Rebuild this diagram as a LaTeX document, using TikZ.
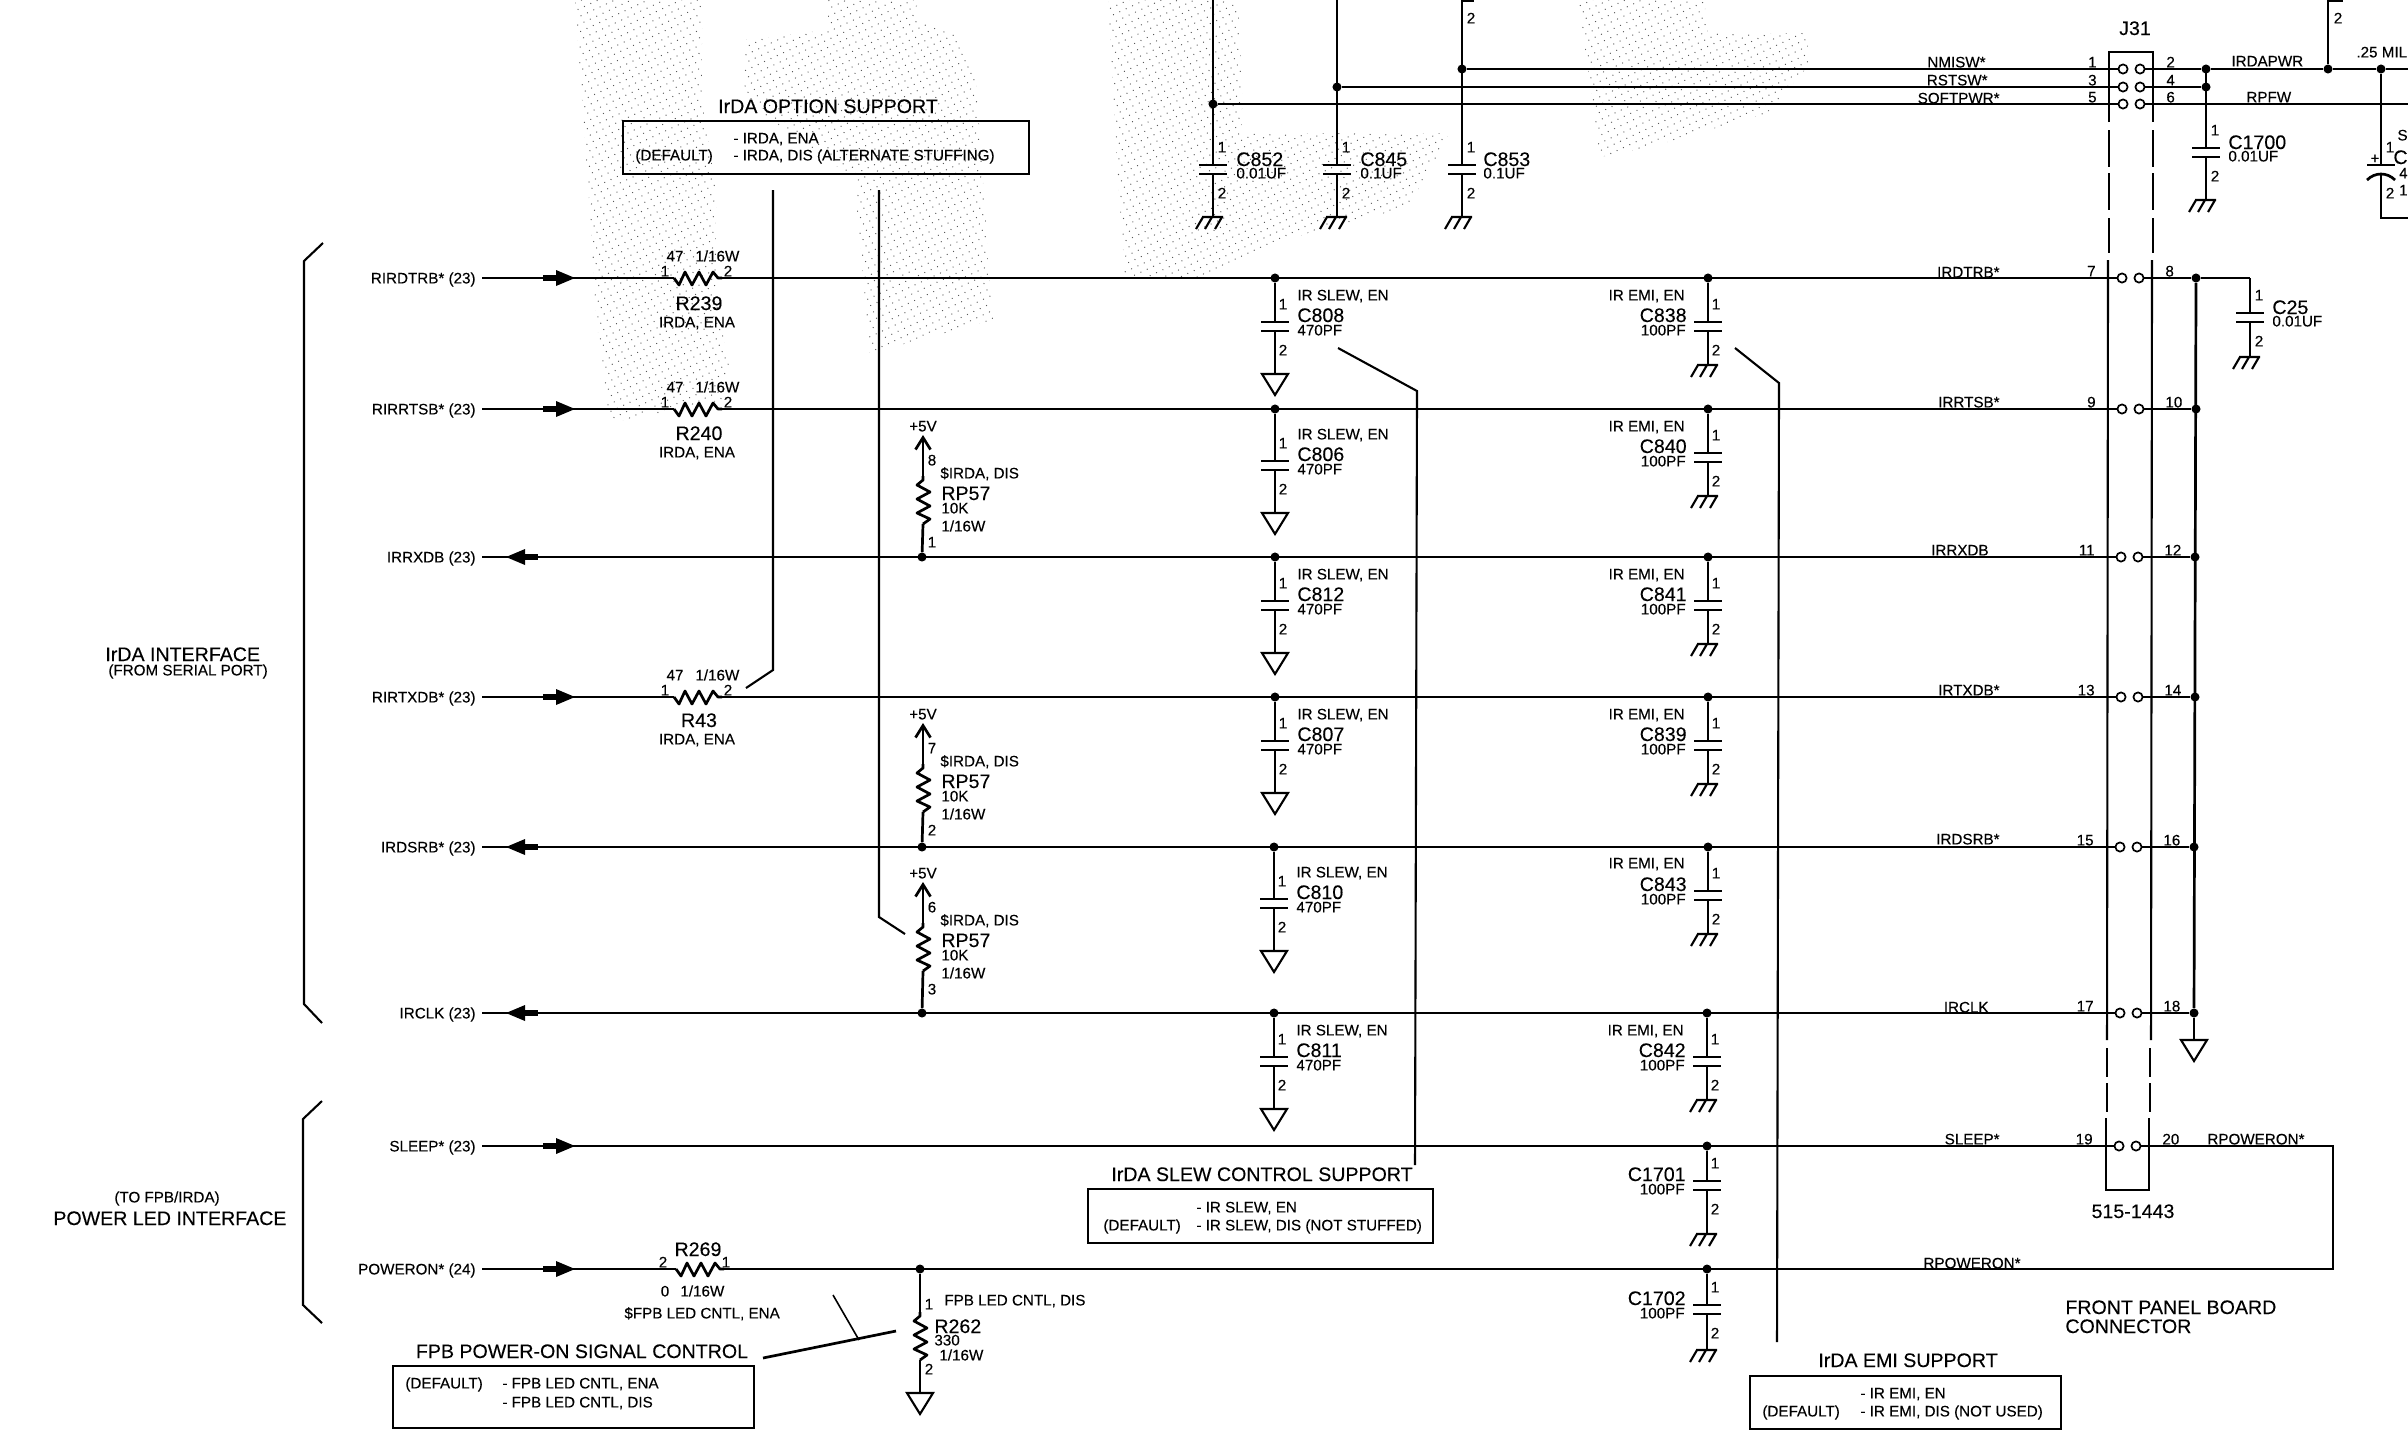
\documentclass[tikz,border=0pt]{standalone}
\usepackage{fontspec}
\setmainfont{Liberation Sans}[FakeBold=0.2]
\usetikzlibrary{arrows.meta,patterns.meta}
\tikzset{wire/.style={line width=1.35pt}}
\tikzset{thinwire/.style={line width=1.05pt}}
\tikzset{point/.style={fill,circle,inner sep=1.6pt}}
\tikzset{pinhole/.style={draw,circle,line width=.85pt,minimum size=4.6pt,inner sep=0pt,fill=white}}
\tikzset{lbl/.style={font=\fontsize{7.6}{8}\selectfont,inner sep=0pt,text height=5.4pt,text depth=0pt}}
\tikzset{lblbig/.style={font=\fontsize{9.8}{10}\selectfont,inner sep=0pt,text height=7pt,text depth=0pt}}
\tikzset{optbox/.style={draw,line width=1.35pt,inner sep=0pt}}
\tikzset{stipple/.style={pattern={Dots[distance=3.5pt,radius=.34pt,angle=25]},pattern color=black!65}}
\tikzset{
    hzig/.pic={\draw[wire,line join=round] (-24,0) -- (-19,7) -- (-13,-6) -- (-6,7) -- (1,-6) -- (8,7) -- (15,-6) -- (20,0) -- (24,0);},
    capplates/.pic={\draw[wire] (-14,0) -- (14,0) (-14,9) -- (14,9);},
    chassis/.pic={\draw[thinwire] (-11,0) -- (10,0) (-10,0) -- (-17,12) (-1,0) -- (-8,12) (9,0) -- (2,12);},
    sigtri/.pic={\draw[thinwire] (-13,0) -- (13,0) -- (0,21) -- cycle;},
    flow/.pic={\fill (0,-8) -- (19,0) -- (0,8) -- cycle; \fill (-13,-3) rectangle (0,3);}
}

\begin{document}
\begin{tikzpicture}[x=.5pt,y=-.5pt]
    \useasboundingbox (0,0) rectangle (2408,1453);
    \clip (0,0) rectangle (2408,1453);

    \fill [stipple] (575,0) -- (702,0) -- (702,100) -- (716,187) -- (716,300) -- (730,367) -- (722,400) -- (610,423) -- (596,317) -- (589,200) -- (582,100) -- cycle;
    \fill [stipple] (828,0) -- (919,0) -- (912,20) -- (954,33) -- (975,67) -- (982,167) -- (993,320) -- (919,340) -- (870,353) -- (856,200) -- (856,180) -- (744,100) -- (744,40) -- (828,30) -- cycle;
    \fill [stipple] (1108,0) -- (1238,0) -- (1242,83) -- (1242,133) -- (1450,133) -- (1408,207) -- (1308,233) -- (1242,257) -- (1208,277) -- (1125,277) -- (1117,167) -- cycle;
    \fill [stipple] (1579,0) -- (1704,0) -- (1708,33) -- (1808,33) -- (1808,67) -- (1767,113) -- (1650,147) -- (1600,157) -- (1592,100) -- (1583,33) -- cycle;

    \node [lblbig,anchor=west] (ifacetitle) at (105,654) {IrDA INTERFACE};
    \node [lbl,anchor=west] (ifacenote) at (108,670) {(FROM SERIAL PORT)};
    \node [lbl,anchor=west] (lednote) at (114,1197) {(TO FPB/IRDA)};
    \node [lblbig,anchor=west] (ledtitle) at (53,1218) {POWER LED INTERFACE};
    \draw [thinwire] (323,243) -- (304,261) -- (304,1004) -- (322,1023);
    \draw [thinwire] (322,1101) -- (303,1119) -- (303,1305) -- (322,1323);

    \foreach \pl/\pr/\yy/\dx in {1/2/69/0,3/4/87/0,5/6/104/0,7/8/278/-1,9/10/409/-1,11/12/557/-2,13/14/697/-2,15/16/847/-3,17/18/1013/-3,19/20/1146/-4} {
        \node [pinhole] (p\pl) at (2123+\dx,\yy) {};
        \node [pinhole] (p\pr) at (2140+\dx,\yy) {};
        \node [lbl,anchor=east] (n\pl) at (2097+\dx,\yy-7) {\pl};
        \node [lbl,anchor=west] (n\pr) at (2166+\dx,\yy-7) {\pr};
    }
    \foreach \net/\x/\yy in {NMISW*/1986/62,RSTSW*/1988/80,SOFTPWR*/2000/98,IRDTRB*/2000/272,IRRTSB*/2000/402,IRRXDB/1989/550,IRTXDB*/2000/690,IRDSRB*/2000/839,IRCLK/1989/1007,SLEEP*/2000/1139,RPOWERON*/2021/1263} {
        \node [lbl,anchor=east] (net\net) at (\x,\yy) {\net};
    }

    \foreach \src/\page/\yy in {RIRDTRB*/23/278,RIRRTSB*/23/409,RIRTXDB*/23/697,SLEEP*/23/1146,POWERON*/24/1269} {
        \node [lbl,anchor=east] (\src) at (476,\yy) {\src{} (\page)};
        \path (556,\yy) pic {flow};
    }
    \foreach \src/\page/\yy in {IRRXDB/23/557,IRDSRB*/23/847,IRCLK/23/1013} {
        \node [lbl,anchor=east] (\src) at (476,\yy) {\src{} (\page)};
        \path (525,\yy) pic [xscale=-1] {flow};
    }

    \foreach \rr/\yy/\ny/\ty in {R239/278/303/322,R240/409/433/452,R43/697/720/739} {
        \coordinate (\rr a) at (674,\yy);
        \coordinate (\rr b) at (722,\yy);
        \path (698,\yy) pic {hzig};
        \node [lbl] (\rr v) at (675,\yy-22) {47};
        \node [lbl,anchor=west] (\rr w) at (695,\yy-22) {1/16W};
        \node [lbl] (\rr p) at (665,\yy-7) {1};
        \node [lbl] (\rr q) at (728,\yy-7) {2};
        \node [lblbig] (\rr) at (699,\ny) {\rr};
        \node [lbl] (\rr t) at (697,\ty) {IRDA, ENA};
    }
    \coordinate (R269a) at (676,1269);
    \coordinate (R269b) at (724,1269);
    \path (700,1269) pic {hzig};
    \node [lbl] (R269p) at (663,1262) {2};
    \node [lbl] (R269q) at (726,1262) {1};
    \node [lblbig] (R269) at (698,1249) {R269};
    \node [lbl] (R269v) at (665,1291) {0};
    \node [lbl,anchor=west] (R269w) at (680,1291) {1/16W};
    \node [lbl,anchor=west] (R269t) at (624,1313) {\$FPB LED CNTL, ENA};

    \coordinate (rpoweron) at (2333,1269);
    \draw [wire,shorten <=3pt] (RIRDTRB*.east) -- (R239a);
    \draw [wire] (R239b) -- (p7);
    \draw [wire,shorten <=3pt] (RIRRTSB*.east) -- (R240a);
    \draw [wire] (R240b) -- (p9);
    \draw [wire,shorten <=3pt] (IRRXDB.east) -- (p11);
    \draw [wire,shorten <=3pt] (RIRTXDB*.east) -- (R43a);
    \draw [wire] (R43b) -- (p13);
    \draw [wire,shorten <=3pt] (IRDSRB*.east) -- (p15);
    \draw [wire,shorten <=3pt] (IRCLK.east) -- (p17);
    \draw [wire,shorten <=3pt] (SLEEP*.east) -- (p19);
    \draw [wire,shorten <=3pt] (POWERON*.east) -- (R269a);
    \draw [wire] (R269b) -- (rpoweron) -- (p20 -| rpoweron) -- (p20);
    \node [lbl,anchor=west] (netrpon) at (2207,1139) {RPOWERON*};

    \foreach \nm/\val/\x/\tp/\pl/\gg/\nx in {C852/0.01UF/1213/0/165/52/23,C845/0.1UF/1337/0/165/52/23,C853/0.1UF/1462/0/165/52/21,C1700/0.01UF/2206/69/148/52/22,C25/0.01UF/2250/278/313/44/22} {
        \coordinate (\nm a) at (\x,\tp);
        \coordinate (\nm b) at (\x,\pl);
        \coordinate (\nm c) at (\x,\pl+9);
        \coordinate (\nm g) at (\x,\pl+\gg);
        \draw [wire] (\nm a) -- (\nm b) (\nm c) -- (\nm g);
        \path (\nm b) pic {capplates};
        \path (\nm g) pic {chassis};
        \node [lbl] (\nm p) at (\x+9,\pl-18) {1};
        \node [lbl] (\nm q) at (\x+9,\pl+28) {2};
        \node [lblbig,anchor=west] (\nm) at (\x+\nx,\pl-6) {\nm};
        \node [lbl,anchor=west] (\nm v) at (\x+\nx,\pl+8) {\val};
    }
    \node [lbl] (C853top) at (1471,18) {2};
    \coordinate (C853stub) at (1474,1);
    \draw [wire] (C853a |- C853stub) -- (C853stub);
    \node [point] (d853) at (1462,69) {};
    \node [point] (d845) at (1337,87) {};
    \node [point] (d852) at (1213,104) {};
    \draw [wire] (d853) -- (p1);
    \draw [wire] (d845) -- (p3);
    \draw [wire] (d852) -- (p5);

    \foreach \nm/\x/\yy/\d in {C808/1275/278/0,C806/1275/409/8,C812/1275/557/0,C807/1275/697/0,C810/1274/847/8,C811/1274/1013/0} {
        \node [point] (\nm d) at (\x,\yy) {};
        \coordinate (\nm b) at (\x,\yy+44+\d);
        \coordinate (\nm c) at (\x,\yy+53+\d);
        \coordinate (\nm g) at (\x,\yy+96+\d);
        \draw [wire] (\nm d) -- (\nm b) (\nm c) -- (\nm g);
        \path (\nm b) pic {capplates};
        \path (\nm g) pic {sigtri};
        \node [lbl] (\nm p) at (\x+8,\yy+26+\d) {1};
        \node [lbl] (\nm q) at (\x+8,\yy+72+\d) {2};
        \node [lbl,anchor=west] (\nm t) at (\x+22,\yy+17+\d) {IR SLEW, EN};
        \node [lblbig,anchor=west] (\nm) at (\x+22,\yy+37+\d) {\nm};
        \node [lbl,anchor=west] (\nm v) at (\x+22,\yy+52+\d) {470PF};
    }

    \foreach \nm/\x/\yy/\d/\gg in {C838/1708/278/0/87,C840/1708/409/0/87,C841/1708/557/0/87,C839/1708/697/0/87,C843/1708/847/0/87,C842/1707/1013/0/87,C1701/1707/1146/-9/88,C1702/1707/1269/-8/81} {
        \node [point] (\nm d) at (\x,\yy) {};
        \coordinate (\nm b) at (\x,\yy+44+\d);
        \coordinate (\nm c) at (\x,\yy+53+\d);
        \coordinate (\nm g) at (\x,\yy+\gg);
        \draw [wire] (\nm d) -- (\nm b) (\nm c) -- (\nm g);
        \path (\nm b) pic {capplates};
        \path (\nm g) pic {chassis};
        \node [lbl] (\nm p) at (\x+8,\yy+26+\d) {1};
        \node [lbl] (\nm q) at (\x+8,\yy+72+\d) {2};
        \node [lblbig,anchor=east] (\nm) at (\x-21,\yy+37+\d) {\nm};
        \node [lbl,anchor=east] (\nm v) at (\x-22,\yy+52+\d) {100PF};
    }
    \foreach \nm/\x/\yy in {C838/1685/295,C840/1685/426,C841/1685/574,C839/1685/714,C843/1685/863,C842/1684/1030} {
        \node [lbl,anchor=east] (\nm t) at (\x,\yy) {IR EMI, EN};
    }

    \foreach \tip/\pa/\pb/\bot in {435/8/1/557,723/7/2/847,882/6/3/1013} {
        \coordinate (rp\pa t) at (923,\tip);
        \coordinate (rp\pa a) at (923,\tip+41);
        \coordinate (rp\pa b) at (923,\tip+89);
        \node [point] (rp\pa d) at (922,\bot) {};
        \draw [wire,-{Straight Barb[length=6pt,width=7.5pt]}] (rp\pa a) -- (rp\pa t);
        \draw [wire] (rp\pa b) -- (rp\pa d);
        \path (923,\tip+65) pic [rotate=90] {hzig};
        \node [lbl] (rp\pa v) at (923,\tip-9) {+5V};
        \node [lbl] (rp\pa p) at (932,\tip+25) {\pa};
        \node [lbl] (rp\pa q) at (932,\tip+107) {\pb};
        \node [lbl,anchor=west] (rp\pa s) at (940,\tip+38) {\$IRDA, DIS};
        \node [lblbig,anchor=west] (rp\pa) at (941,\tip+58) {RP57};
        \node [lbl,anchor=west] (rp\pa k) at (941,\tip+73) {10K};
        \node [lbl,anchor=west] (rp\pa w) at (941,\tip+91) {1/16W};
    }

    \node [point] (R262d) at (920,1269) {};
    \coordinate (R262a) at (920,1312);
    \coordinate (R262b) at (920,1360);
    \coordinate (R262g) at (920,1393);
    \draw [wire] (R262d) -- (R262a) (R262b) -- (R262g);
    \path (920,1336) pic [rotate=90] {hzig};
    \path (R262g) pic {sigtri};
    \node [lbl] (R262p) at (929,1304) {1};
    \node [lbl] (R262q) at (929,1369) {2};
    \node [lbl,anchor=west] (R262t) at (944,1300) {FPB LED CNTL, DIS};
    \node [lblbig,anchor=west] (R262) at (934,1326) {R262};
    \node [lbl,anchor=west] (R262v) at (934,1340) {330};
    \node [lbl,anchor=west] (R262w) at (939,1355) {1/16W};

    \node [lblbig] (J31) at (2135,28) {J31};
    \draw [thinwire] (2109,122) -- (2109,52) -- (2153,52) -- (2153,122);
    \foreach \a/\b in {130/167,173/210,218/253} {
        \draw [thinwire] (2109,\a) -- (2109,\b) (2153,\a) -- (2153,\b);
    }
    \draw [thinwire] (2108,260) -- (2107,1040) (2152,260) -- (2151,1040);
    \foreach \a/\b in {1048/1077,1083/1112} {
        \draw [thinwire] (2107,\a) -- (2107,\b) (2150,\a) -- (2150,\b);
    }
    \draw [thinwire] (2106,1118) -- (2106,1190) -- (2149,1190) -- (2149,1118);
    \node [lblbig] (partno) at (2133,1211) {515-1443};
    \node [lblbig,anchor=west] (fpbtitle) at (2065,1307) {FRONT PANEL BOARD};
    \node [lblbig,anchor=west] (fpbtitleb) at (2065,1326) {CONNECTOR};

    \node [point] (dpwr) at (2206,69) {};
    \node [point] (dsw) at (2206,87) {};
    \node [point] (dup) at (2328,69) {};
    \node [point] (dbulk) at (2381,69) {};
    \coordinate (pwrend) at (2408,69);
    \coordinate (rpfwend) at (2408,104);
    \draw [wire] (p2) -- (dpwr) -- (dup) -- (dbulk) -- (pwrend);
    \draw [wire] (p4) -- (dsw);
    \draw [wire] (p6) -- (rpfwend);
    \node [lbl,anchor=west] (netpwr) at (2231,61) {IRDAPWR};
    \node [lbl,anchor=west] (netfw) at (2246,97) {RPFW};
    \node [lbl,anchor=west] (netmil) at (2356,52) {.25 MIL};
    \coordinate (uptop) at (2328,1);
    \coordinate (upstub) at (2343,1);
    \draw [wire] (dup) -- (uptop) -- (upstub);
    \node [lbl] (uppin) at (2338,18) {2};
    \coordinate (bulka) at (2381,165);
    \coordinate (bulkb) at (2381,174);
    \coordinate (bulkc) at (2381,218);
    \coordinate (bulkd) at (2408,218);
    \draw [wire] (dbulk) -- (bulka) (bulkb) -- (bulkc) -- (bulkd);
    \draw [wire] (2367,165) -- (2395,165);
    \draw [wire] (2367,180) .. controls (2375,172) and (2387,172) .. (2395,180);
    \node [lbl] (bulkplus) at (2375,158) {+};
    \node [lbl] (bulkp) at (2390,147) {1};
    \node [lbl] (bulkq) at (2390,193) {2};
    \node [lbl,anchor=east] (bulks) at (2408,135) {S};
    \node [lblbig,anchor=east] (bulkn) at (2408,157) {C};
    \node [lbl,anchor=east] (bulkv) at (2408,173) {4};
    \node [lbl,anchor=east] (bulkw) at (2408,190) {1};

    \foreach \pr/\x/\yy in {8/2196/278,10/2196/409,12/2195/557,14/2195/697,16/2194/847,18/2194/1013} {
        \node [point] (d\pr) at (\x,\yy) {};
        \draw [wire] (p\pr) -- (d\pr);
    }
    \draw [wire] (d8) -- (d18);
    \coordinate (dgnd) at (2194,1040);
    \draw [wire] (d18) -- (dgnd);
    \path (dgnd) pic {sigtri};
    \draw [wire] (d8) -- (C25a);

    \node [lblbig] (opttitle) at (828,106) {IrDA OPTION SUPPORT};
    \node [optbox,minimum width=203pt,minimum height=26.5pt] (optbox) at (826,147.5) {};
    \node [lbl,anchor=west] (optena) at (733,138) {- IRDA, ENA};
    \node [lbl,anchor=west] (optdef) at (635,155) {(DEFAULT)};
    \node [lbl,anchor=west] (optdis) at (733,155) {- IRDA, DIS (ALTERNATE STUFFING)};
    \coordinate (opta) at (773,190);
    \coordinate (optb) at (773,670);
    \coordinate (optc) at (746,688);
    \draw [thinwire] (opta) -- (optb) -- (optc);
    \coordinate (optd) at (879,190);
    \coordinate (opte) at (879,917);
    \coordinate (optf) at (905,934);
    \draw [thinwire] (optd) -- (opte) -- (optf);

    \node [lblbig] (slewtitle) at (1262,1174) {IrDA SLEW CONTROL SUPPORT};
    \node [optbox,minimum width=172.5pt,minimum height=27pt] (slewbox) at (1260.5,1216) {};
    \node [lbl,anchor=west] (slewen) at (1196,1207) {- IR SLEW, EN};
    \node [lbl,anchor=west] (slewdef) at (1103,1225) {(DEFAULT)};
    \node [lbl,anchor=west] (slewdis) at (1196,1225) {- IR SLEW, DIS (NOT STUFFED)};
    \coordinate (slewa) at (1338,348);
    \coordinate (slewb) at (1417,391);
    \coordinate (slewc) at (1415,1165);
    \draw [thinwire] (slewa) -- (slewb) -- (slewc);

    \node [lblbig] (emititle) at (1908,1360) {IrDA EMI SUPPORT};
    \node [optbox,minimum width=155.5pt,minimum height=26.5pt] (emibox) at (1905.5,1402.5) {};
    \node [lbl,anchor=west] (emien) at (1860,1393) {- IR EMI, EN};
    \node [lbl,anchor=west] (emidef) at (1762,1411) {(DEFAULT)};
    \node [lbl,anchor=west] (emidis) at (1860,1411) {- IR EMI, DIS (NOT USED)};
    \coordinate (emia) at (1735,348);
    \coordinate (emib) at (1779,383);
    \coordinate (emic) at (1777,1342);
    \draw [thinwire] (emia) -- (emib) -- (emic);

    \node [lblbig] (fpbctl) at (582,1351) {FPB POWER-ON SIGNAL CONTROL};
    \node [optbox,minimum width=180.5pt,minimum height=31pt] (fpbbox) at (573.5,1397) {};
    \node [lbl,anchor=west] (fpbdef) at (405,1383) {(DEFAULT)};
    \node [lbl,anchor=west] (fpbena) at (502,1383) {- FPB LED CNTL, ENA};
    \node [lbl,anchor=west] (fpbdis) at (502,1402) {- FPB LED CNTL, DIS};
    \coordinate (fpba) at (763,1358);
    \coordinate (fpbb) at (896,1331);
    \coordinate (fpbc) at (833,1295);
    \coordinate (fpbd) at (859,1340);
    \draw [wire] (fpba) -- (fpbb);
    \draw [line width=.8pt] (fpbc) -- (fpbd);
\end{tikzpicture}
\end{document}
